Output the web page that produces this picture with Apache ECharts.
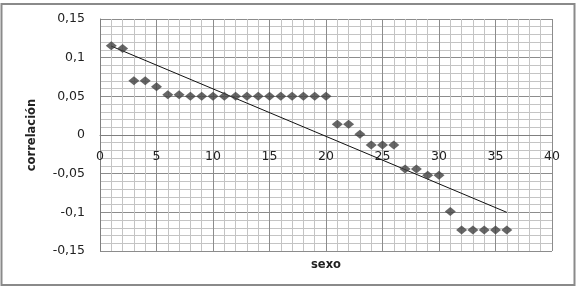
<!DOCTYPE html>
<html>
<head>
<meta charset="utf-8">
<script src="https://cdn.jsdelivr.net/npm/echarts@6/dist/echarts.min.js"></script>
<style>
html,body{margin:0;padding:0;background:#fff;}
#c{width:578px;height:298px;}
</style>
</head>
<body>
<div id="c"></div>
<script>
// x positions (sexo) and correlation values
var xValues = [1,2,3,4,5,6,7,8,9,10,11,12,13,14,15,16,17,18,19,20,21,22,23,24,25,26,27,28,29,30,31,32,33,34,35,36];
var correlacion = [0.1155,0.112,0.070,0.070,0.0625,0.052,0.052,0.050,0.050,0.050,0.050,0.050,0.050,0.050,0.050,0.050,0.050,0.050,0.050,0.050,0.014,0.014,0.001,-0.013,-0.013,-0.013,-0.044,-0.044,-0.052,-0.052,-0.099,-0.123,-0.123,-0.123,-0.123,-0.123];
var xTicks = [0,5,10,15,20,25,30,35,40];
var yTicks = [-0.15,-0.1,-0.05,0,0.05,0.1,0.15];

// linear trend line (least squares) from the data
var n = xValues.length, sx = 0, sy = 0, sxy = 0, sxx = 0;
for (var i = 0; i < n; i++) { sx += xValues[i]; sy += correlacion[i]; sxy += xValues[i]*correlacion[i]; sxx += xValues[i]*xValues[i]; }
var slope = (n*sxy - sx*sy) / (n*sxx - sx*sx);
var intercept = (sy - slope*sx) / n;
var xFirst = xValues[0], xLast = xValues[n-1];
var trend = [[xFirst, intercept + slope*xFirst], [xLast, intercept + slope*xLast]];

var points = xValues.map(function (x, i) { return [x, correlacion[i]]; });

function fmt(v) {
  var r = Math.round(v*100)/100;
  return String(r).replace('.', ',');
}

var xMin = xTicks[0], xMax = xTicks[xTicks.length-1];
var yMin = yTicks[0], yMax = yTicks[yTicks.length-1];
var plotTop = 19, plotBottom = 47, plotH = 298 - plotTop - plotBottom;
// move the x axis up to y = 0 (axis drawn at bottom, offset into the grid)
var zeroOffset = -plotH * (0 - yMin) / (yMax - yMin);

var minorLine = {show: true, lineStyle: {color: '#c4c4c4', width: 1}};
var majorLine = {show: true, lineStyle: {color: '#8c8c8c', width: 1}};
var labelFont = {fontFamily: 'DejaVu Sans', fontSize: 12.5, color: '#222'};
var nameFont = {fontFamily: 'DejaVu Sans', fontSize: 11.5, fontWeight: 'bold', color: '#222'};

var chart = echarts.init(document.getElementById('c'), null, {renderer: 'canvas'});
chart.setOption({
  backgroundColor: '#ffffff',
  animation: false,
  graphic: [{
    type: 'rect', shape: {x: 1.5, y: 4, width: 573, height: 281},
    style: {fill: 'none', stroke: '#8a8a8a', lineWidth: 2}, silent: true, z: -1
  }],
  grid: {left: 100, right: 26, top: plotTop, bottom: plotBottom, containLabel: false, outerBoundsMode: 'none'},
  xAxis: [{
    type: 'value', min: xMin, max: xMax, interval: 1, position: 'bottom',
    axisLine: {show: false}, axisTick: {show: false}, axisLabel: {show: false},
    splitLine: minorLine
  }, {
    type: 'value', min: xMin, max: xMax, interval: 5, position: 'bottom', offset: zeroOffset,
    name: 'sexo', nameLocation: 'middle', nameGap: 124, nameTextStyle: nameFont,
    axisLine: {show: true, onZero: false, lineStyle: {color: '#7f7f7f', width: 1}},
    axisTick: {show: false},
    axisLabel: Object.assign({margin: 15, formatter: fmt}, labelFont),
    splitLine: majorLine
  }],
  yAxis: [{
    type: 'value', min: yMin, max: yMax, interval: 0.01, position: 'left',
    axisLine: {show: false}, axisTick: {show: false}, axisLabel: {show: false},
    splitLine: minorLine
  }, {
    type: 'value', min: yMin, max: yMax, interval: 0.05, position: 'left',
    name: 'correlación', nameLocation: 'middle', nameGap: 62, nameTextStyle: nameFont,
    axisLine: {show: true, onZero: false, lineStyle: {color: '#7f7f7f', width: 1}},
    axisTick: {show: false},
    axisLabel: Object.assign({margin: 15, formatter: fmt}, labelFont),
    splitLine: majorLine
  }],
  series: [{
    type: 'line', data: trend, symbol: 'none', xAxisIndex: 1, yAxisIndex: 1,
    lineStyle: {color: '#111', width: 1}, z: 2
  }, {
    type: 'scatter', data: points, symbol: 'diamond', symbolSize: [11, 9],
    xAxisIndex: 1, yAxisIndex: 1,
    itemStyle: {color: '#404040'}, z: 3
  }]
});
</script>
</body>
</html>
